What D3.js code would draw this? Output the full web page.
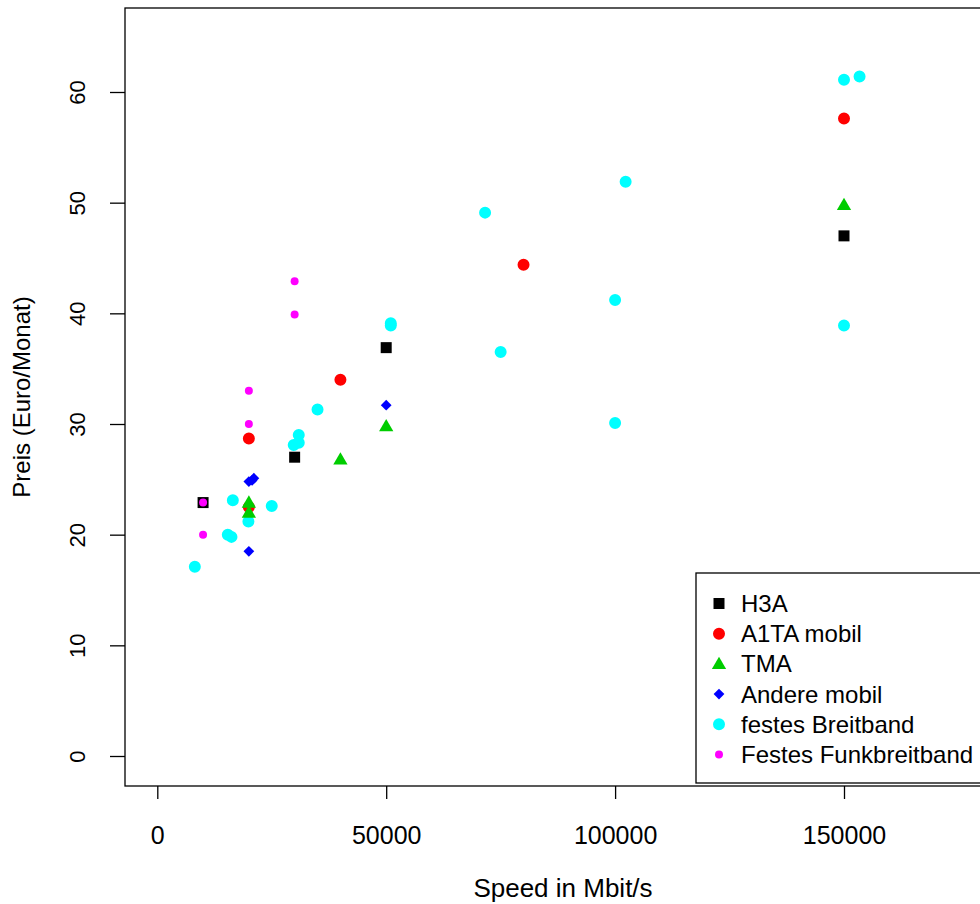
<!DOCTYPE html>
<html>
<head>
<meta charset="utf-8">
<script src="https://cdn.jsdelivr.net/npm/d3@7"></script>
<style>
  html, body { margin: 0; padding: 0; background: #fff; }
  svg { display: block; }
  text { font-family: "Liberation Sans", Arial, sans-serif; fill: #000; }
</style>
</head>
<body>
<svg id="chart" width="980" height="904"></svg>
<script>
// ---- data ----
const seriesNames = ["H3A", "A1TA mobil", "TMA", "Andere mobil", "festes Breitband", "Festes Funkbreitband"];

const h3aX = [10000, 30000, 50000, 150000];
const h3aY = [22.9, 27.0, 36.9, 47.0];

const a1taX = [20000, 20000, 40000, 80000, 150000];
const a1taY = [28.7, 22.5, 34.0, 44.4, 57.6];

const tmaX = [20000, 20000, 40000, 50000, 150000];
const tmaY = [22.9, 22.0, 26.8, 29.8, 49.8];

const andereX = [20000, 20700, 21100, 20000, 50000];
const andereY = [24.8, 24.9, 25.1, 18.5, 31.7];

const festesX = [8200, 16500, 15400, 16200, 19900, 25000, 29800, 30900, 30900, 35000, 51000, 51000, 71600, 102300, 75000, 100000, 100000, 150000, 150000, 153400];
const festesY = [17.1, 23.1, 20.0, 19.8, 21.2, 22.6, 28.1, 29.0, 28.3, 31.3, 39.1, 38.9, 49.1, 51.9, 36.5, 41.2, 30.1, 38.9, 61.1, 61.4];

const funkX = [10000, 10000, 20000, 20000, 30000, 30000];
const funkY = [22.9, 20.0, 33.0, 30.0, 42.9, 39.9];

const xTicks = [0, 50000, 100000, 150000];
const yTicks = [0, 10, 20, 30, 40, 50, 60];

// ---- setup ----
const svg = d3.select("#chart");
const x = d3.scaleLinear().domain([0, 150000]).range([157.3, 844]);
const y = d3.scaleLinear().domain([0, 60]).range([756, 92]);

const plotLeft = 125, plotTop = 8, plotBottom = 786, plotRight = 1200;

const shapes = {
  square: d3.symbol().type(d3.symbolSquare).size(121),
  circle: d3.symbol().type(d3.symbolCircle).size(113),
  triangle: d3.symbol().type(d3.symbolTriangle).size(88),
  diamond: d3.symbol().type(d3.symbolSquare).size(58),
  cyan: d3.symbol().type(d3.symbolCircle).size(113),
  small: d3.symbol().type(d3.symbolCircle).size(50)
};

const series = [
  { name: "festes Breitband", xs: festesX, ys: festesY, color: "#00FFFF", shape: "cyan", rot: 0, dy: 0 },
  { name: "H3A", xs: h3aX, ys: h3aY, color: "#000000", shape: "square", rot: 0, dy: 0 },
  { name: "A1TA mobil", xs: a1taX, ys: a1taY, color: "#FF0000", shape: "circle", rot: 0, dy: 0 },
  { name: "TMA", xs: tmaX, ys: tmaY, color: "#00CD00", shape: "triangle", rot: 0, dy: 1 },
  { name: "Andere mobil", xs: andereX, ys: andereY, color: "#0000FF", shape: "diamond", rot: 45, dy: 0 },
  { name: "Festes Funkbreitband", xs: funkX, ys: funkY, color: "#FF00FF", shape: "small", rot: 0, dy: 0 }
];

// ---- axes ----
const xAxis = d3.axisBottom(x).tickValues(xTicks).tickSize(13).tickPadding(27).tickFormat(d3.format("d"));
const gx = svg.append("g").attr("transform", `translate(0,${plotBottom})`).call(xAxis);
gx.select(".domain").remove();
gx.selectAll(".tick line").attr("stroke", "#000").attr("stroke-width", 1.3);
gx.selectAll(".tick text").attr("font-size", 25).attr("font-family", "Liberation Sans, Arial, sans-serif");

const yAxis = d3.axisLeft(y).tickValues(yTicks).tickSize(15).tickFormat(d3.format("d"));
const gy = svg.append("g").attr("transform", `translate(${plotLeft},0)`).call(yAxis);
gy.select(".domain").remove();
gy.selectAll(".tick line").attr("stroke", "#000").attr("stroke-width", 1.3);
gy.selectAll(".tick text")
  .attr("font-size", 22)
  .attr("font-family", "Liberation Sans, Arial, sans-serif")
  .attr("x", 0).attr("dy", null)
  .attr("text-anchor", "middle")
  .attr("dominant-baseline", "central")
  .attr("transform", "translate(-48,0) rotate(-90)");

// axis titles
svg.append("text").attr("x", 563).attr("y", 888)
  .attr("text-anchor", "middle").attr("dominant-baseline", "central")
  .attr("font-size", 26).text("Speed in Mbit/s");
svg.append("text").attr("transform", "translate(21,397) rotate(-90)")
  .attr("text-anchor", "middle").attr("dominant-baseline", "central")
  .attr("font-size", 24).text("Preis (Euro/Monat)");

// ---- points ----
series.forEach(s => {
  svg.append("g").selectAll("path")
    .data(s.xs.map((xv, i) => [xv, s.ys[i]]))
    .join("path")
    .attr("d", shapes[s.shape])
    .attr("transform", d => `translate(${x(d[0])},${y(d[1]) + s.dy}) rotate(${s.rot})`)
    .attr("fill", s.color);
});

// ---- plot box ----
svg.append("rect")
  .attr("x", plotLeft).attr("y", plotTop)
  .attr("width", plotRight - plotLeft).attr("height", plotBottom - plotTop)
  .attr("fill", "none").attr("stroke", "#000").attr("stroke-width", 1.3);

// ---- legend ----
const legendOrder = ["H3A", "A1TA mobil", "TMA", "Andere mobil", "festes Breitband", "Festes Funkbreitband"];
const lg = svg.append("g");
lg.append("rect").attr("x", 696).attr("y", 573).attr("width", 400).attr("height", 210)
  .attr("fill", "#fff").attr("stroke", "#000").attr("stroke-width", 1.3);
const legendRows = d3.scaleLinear().domain([0, 5]).range([603.5, 754.5]);
legendOrder.forEach((name, i) => {
  const s = series.find(t => t.name === name);
  lg.append("path").attr("d", shapes[s.shape])
    .attr("transform", `translate(719,${legendRows(i) + s.dy}) rotate(${s.rot})`)
    .attr("fill", s.color);
  lg.append("text").attr("x", 741).attr("y", legendRows(i))
    .attr("dominant-baseline", "central").attr("font-size", 24).text(name);
});
</script>
</body>
</html>
